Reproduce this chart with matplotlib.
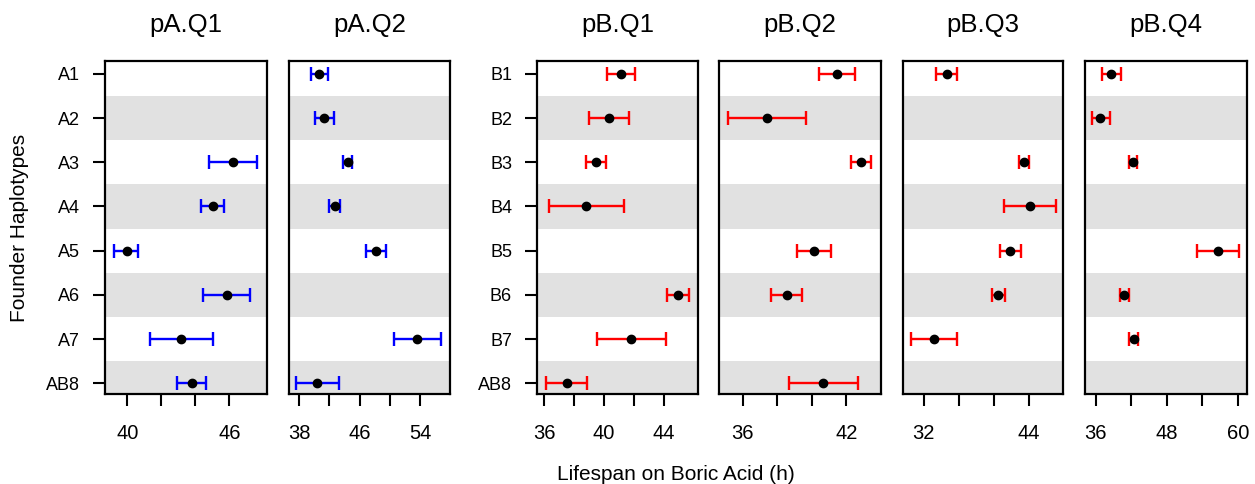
import numpy as np
import matplotlib.pyplot as plt

plt.rcParams['font.family'] = ['Liberation Sans', 'DejaVu Sans']

nan = np.nan

# ==============================
# DATA
# ==============================

labels_a = ["A1", "A2", "A3", "A4", "A5", "A6", "A7", "AB8"]
labels_b = ["B1", "B2", "B3", "B4", "B5", "B6", "B7", "AB8"]

pa_q1_mean = [nan, nan, 46.20, 45.02, 39.96, 45.86, 43.18, 43.79]
pa_q1_lo = [nan, nan, 44.79, 44.35, 39.24, 44.47, 41.35, 42.92]
pa_q1_hi = [nan, nan, 47.63, 45.71, 40.65, 47.22, 45.02, 44.65]

pa_q2_mean = [40.64, 41.22, 44.44, 42.68, 48.14, nan, 53.65, 40.38]
pa_q2_lo = [39.62, 40.03, 43.82, 41.97, 46.81, nan, 50.56, 37.56]
pa_q2_hi = [41.79, 42.55, 45.05, 43.34, 49.49, nan, 56.78, 43.20]

pb_q1_mean = [41.16, 40.34, 39.49, 38.82, nan, 44.94, 41.81, 37.50]
pb_q1_lo = [40.23, 39.00, 38.80, 36.29, nan, 44.23, 39.51, 36.09]
pb_q1_hi = [42.08, 41.66, 40.14, 41.32, nan, 45.70, 44.16, 38.88]

pb_q2_mean = [41.49, 37.41, 42.87, nan, 40.16, 38.55, nan, 40.65]
pb_q2_lo = [40.45, 35.16, 42.27, nan, 39.17, 37.64, nan, 38.67]
pb_q2_hi = [42.52, 39.69, 43.45, nan, 41.14, 39.44, nan, 42.66]

pb_q3_mean = [34.61, nan, 43.43, 44.07, 41.88, 40.51, 33.13, nan]
pb_q3_lo = [33.41, nan, 42.90, 41.12, 40.75, 39.80, 30.52, nan]
pb_q3_hi = [35.75, nan, 43.96, 47.04, 43.09, 41.31, 35.84, nan]

pb_q4_mean = [38.66, 36.78, 42.27, nan, 56.66, 40.79, 42.39, nan]
pb_q4_lo = [37.13, 35.36, 41.57, nan, 53.16, 40.06, 41.64, nan]
pb_q4_hi = [40.29, 38.37, 42.94, nan, 60.18, 41.53, 43.16, nan]

ticks_pa_q1 = [40, 42, 44, 46]
ticklabels_pa_q1 = ["40", "", "", "46"]
ticks_pa_q2 = [38, 42, 46, 50, 54]
ticklabels_pa_q2 = ["38", "", "46", "", "54"]
ticks_pb_q1 = [36, 38, 40, 42, 44]
ticklabels_pb_q1 = ["36", "", "40", "", "44"]
ticks_pb_q2 = [36, 38, 40, 42]
ticklabels_pb_q2 = ["36", "", "", "42"]
ticks_pb_q3 = [32, 36, 40, 44]
ticklabels_pb_q3 = ["32", "", "", "44"]
ticks_pb_q4 = [36, 42, 48, 54, 60]
ticklabels_pb_q4 = ["36", "", "48", "", "60"]

# ==============================
# LAYOUT
# ==============================

W, H = 1255, 484
fig = plt.figure(figsize=(W / 100, H / 100), dpi=100)

TOP, BOTTOM = 61, 394

panels = [
    ("pA.Q1", labels_a, pa_q1_mean, pa_q1_lo, pa_q1_hi, "#0000ff", (38.69, 48.22),
     ticks_pa_q1, ticklabels_pa_q1, True, 105, 267),
    ("pA.Q2", labels_a, pa_q2_mean, pa_q2_lo, pa_q2_hi, "#0000ff", (36.64, 57.97),
     ticks_pa_q2, ticklabels_pa_q2, False, 289, 450),
    ("pB.Q1", labels_b, pb_q1_mean, pb_q1_lo, pb_q1_hi, "#ff0000", (35.51, 46.31),
     ticks_pb_q1, ticklabels_pb_q1, True, 537, 698),
    ("pB.Q2", labels_b, pb_q2_mean, pb_q2_lo, pb_q2_hi, "#ff0000", (34.64, 44.01),
     ticks_pb_q2, ticklabels_pb_q2, False, 719, 881),
    ("pB.Q3", labels_b, pb_q3_mean, pb_q3_lo, pb_q3_hi, "#ff0000", (29.66, 47.86),
     ticks_pb_q3, ticklabels_pb_q3, False, 903, 1063),
    ("pB.Q4", labels_b, pb_q4_mean, pb_q4_lo, pb_q4_hi, "#ff0000", (34.19, 61.52),
     ticks_pb_q4, ticklabels_pb_q4, False, 1085, 1247),
]

for (title, labels, mean, lo, hi, color, xlim, ticks, ticklabels,
     show_y, x0, x1) in panels:
    ax = fig.add_axes([x0 / W, 1 - BOTTOM / H, (x1 - x0) / W, (BOTTOM - TOP) / H])
    rows = np.arange(1, len(labels) + 1)
    mean = np.array(mean)
    lo = np.array(lo)
    hi = np.array(hi)

    # alternating grey bands
    for r in rows[1::2]:
        ax.axhspan(r - 0.5, r + 0.5, color="#e1e1e1", lw=0, zorder=0)

    ok = ~np.isnan(mean)
    ax.errorbar(mean[ok], rows[ok], xerr=[mean[ok] - lo[ok], hi[ok] - mean[ok]],
                fmt="none", ecolor=color, elinewidth=1.7, capsize=5,
                capthick=1.7, zorder=2)
    ax.plot(mean[ok], rows[ok], "o", color="black", ms=6, zorder=3)

    ax.set_xlim(*xlim)
    ax.set_ylim(8.24, 0.71)
    ax.set_xticks(ticks)
    ax.set_xticklabels(ticklabels)
    ax.tick_params(axis="x", direction="out", length=8.5, width=1.5,
                   pad=13, labelsize=14.5)
    if show_y:
        ax.set_yticks(rows)
        ax.set_yticklabels(labels)
        ax.tick_params(axis="y", direction="out", length=9, width=1.5,
                       pad=9, labelsize=13)
    else:
        ax.set_yticks([])

    for s in ax.spines.values():
        s.set_linewidth(1.6)

    fig.text((x0 + x1) / 2 / W, 1 - 25 / H, title, ha="center", va="center",
             fontsize=18.5)

fig.text(676 / W, 1 - 474 / H, "Lifespan on Boric Acid (h)", ha="center",
         va="center", fontsize=15)
fig.text(20 / W, 1 - 228 / H, "Founder Haplotypes", ha="center", va="center",
         rotation=90, fontsize=15)

plt.savefig("out.png", dpi=100)
